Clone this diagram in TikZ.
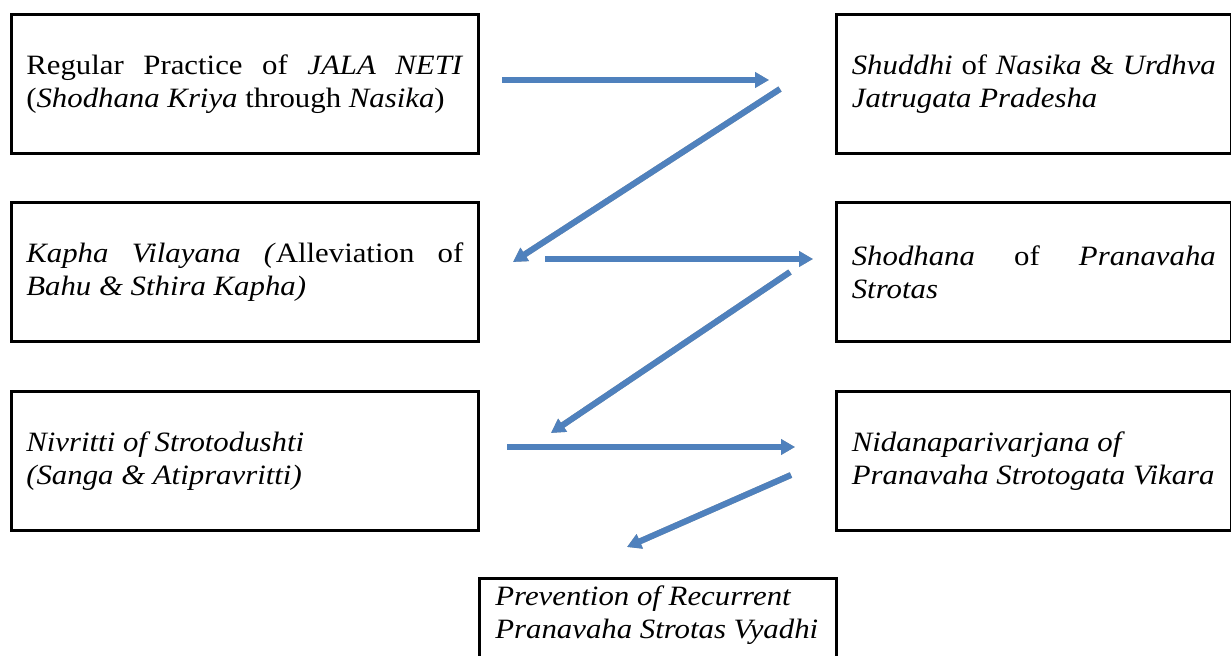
\documentclass[tikz,border=0pt]{standalone}
\usepackage{fontspec}
\setmainfont{Liberation Serif}[FakeStretch=1.1]
\usetikzlibrary{arrows.meta}
\definecolor{arrowblue}{RGB}{79,129,189}
\definecolor{shadowgray}{RGB}{160,160,160}
\begin{document}
\begin{tikzpicture}[x=0.75pt,y=-0.75pt,
  box/.style={draw, line width=2pt, anchor=north west, inner sep=0pt,
    font=\fontsize{21}{24.75}\selectfont},
  lbox/.style={box, minimum width=350.25pt, minimum height=104.25pt},
  rbox/.style={box, minimum width=296.25pt, minimum height=104.25pt},
  flow/.style={line width=4.5pt, arrowblue, -{Triangle[width=11.25pt,length=10.5pt]}},
  flowshadow/.style={flow, shadowgray, shift={(1.5,2.5)}}
]
\useasboundingbox (0,0) rectangle (1231,656);
\clip (0,0) rectangle (1231,656);

\node[lbox] (b1) at (10,13) {\parbox{327.75pt}{\makebox[\linewidth][s]{Regular Practice of \textit{JALA NETI}}\\(\textit{Shodhana Kriya} through \textit{Nasika})}};
\node[rbox] (b2) at (835,13) {\parbox{273pt}{\makebox[\linewidth][s]{\textit{Shuddhi} of \textit{Nasika} \& \textit{Urdhva}}\\\textit{Jatrugata Pradesha}}};
\node[lbox] (b3) at (10,201) {\parbox{327.75pt}{\makebox[\linewidth][s]{\textit{Kapha Vilayana (}Alleviation of}\\\textit{Bahu \& Sthira Kapha)}}};
\node[rbox] (b4) at (835,201) {\parbox{273pt}{\makebox[\linewidth][s]{\textit{Shodhana} of \textit{Pranavaha}}\\\textit{Strotas}}};
\node[lbox] (b5) at (10,390) {\parbox{327.75pt}{\textit{Nivritti of Strotodushti}\\\textit{(Sanga \& Atipravritti)}}};
\node[rbox] (b6) at (835,390) {\parbox{273pt}{\textit{Nidanaparivarjana of}\\\textit{Pranavaha Strotogata Vikara}}};
\node[box, inner xsep=12pt] (b7) at (478,577) {\parbox[c][70pt][t]{243.75pt}{\vspace{5.5pt}\textit{Prevention of Recurrent}\\\textit{Pranavaha Strotas Vyadhi}}};

\coordinate (a1s) at (502,80);  \coordinate (a1e) at (769,80);
\coordinate (a2s) at (780,89);  \coordinate (a2e) at (513,262);
\coordinate (a3s) at (545,259); \coordinate (a3e) at (813,259);
\coordinate (a4s) at (790,272); \coordinate (a4e) at (551,433);
\coordinate (a5s) at (507,447); \coordinate (a5e) at (795,447);
\coordinate (a6s) at (791,475); \coordinate (a6e) at (627,547);

\foreach \s/\e in {a1s/a1e,a2s/a2e,a3s/a3e,a4s/a4e,a5s/a5e,a6s/a6e}{
  \draw[flowshadow] (\s) -- (\e);
  \draw[flow] (\s) -- (\e);
}
\end{tikzpicture}
\end{document}
